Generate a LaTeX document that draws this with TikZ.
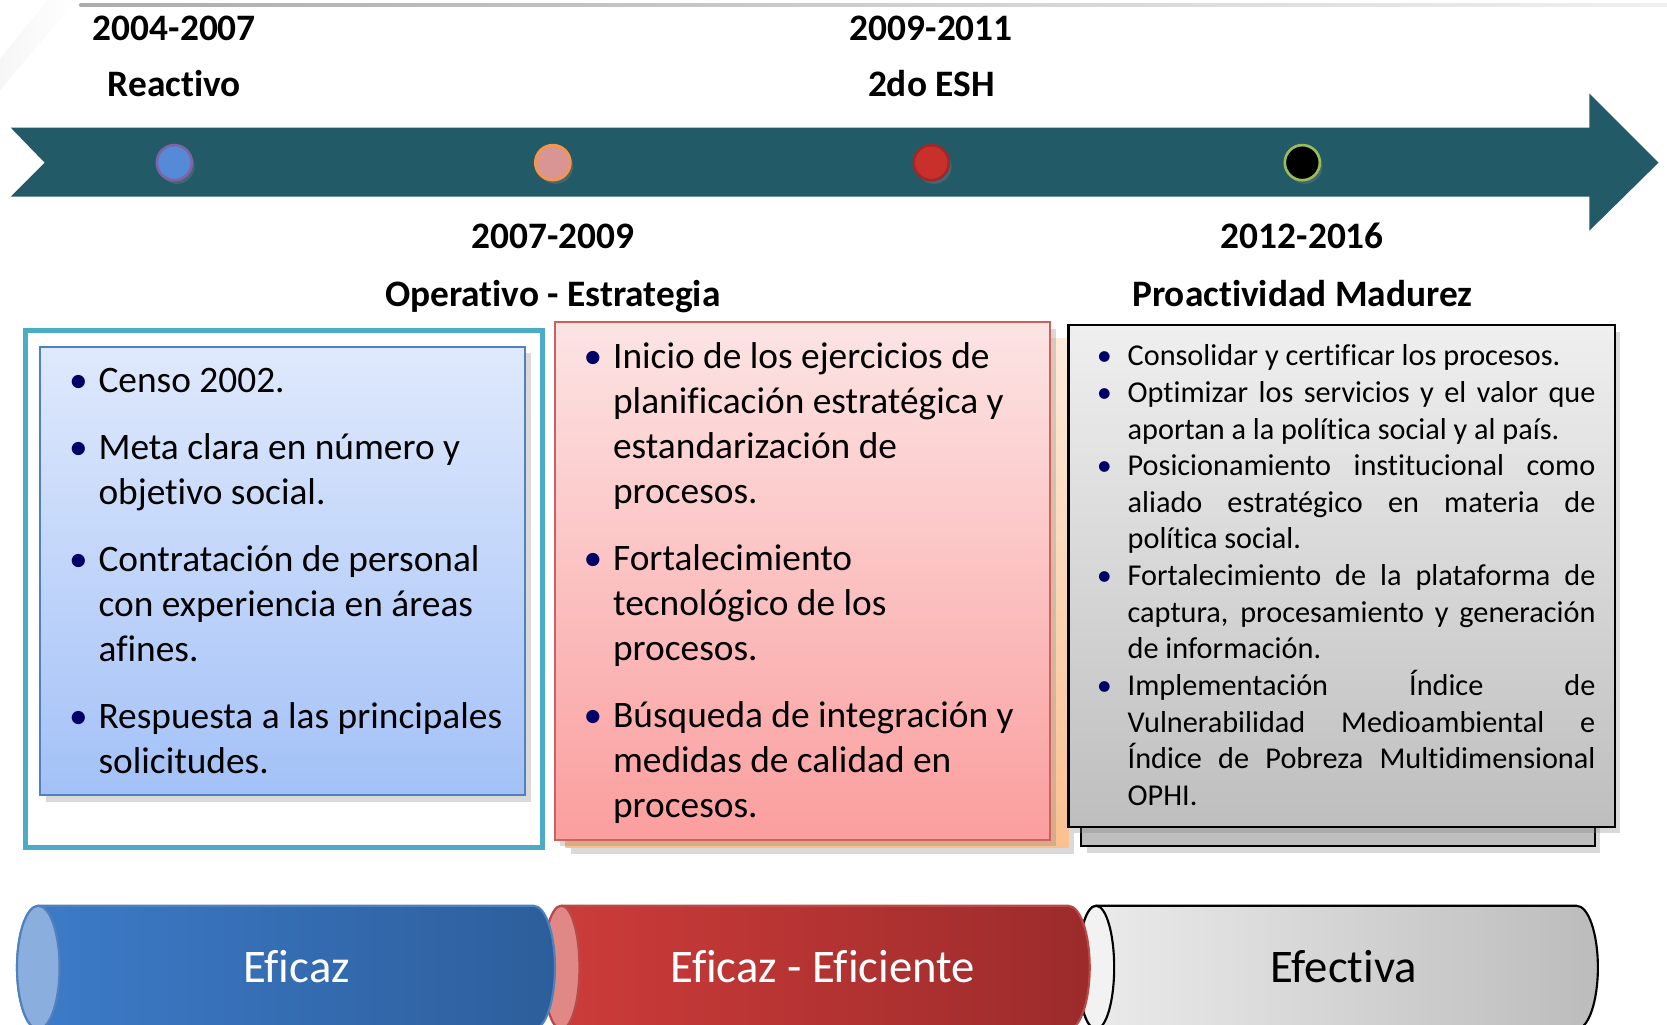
\documentclass[tikz,border=0pt]{standalone}
\usepackage{fontspec}
\setmainfont{Carlito}[Ligatures=NoCommon]
\usepackage{enumitem}
\usetikzlibrary{shadows,positioning}
\definecolor{bandteal}{HTML}{225A68}
\definecolor{dotblue}{HTML}{558BD6}
\definecolor{dotblueedge}{HTML}{7E63A6}
\definecolor{dotsalmon}{HTML}{D99594}
\definecolor{dotorange}{HTML}{F79646}
\definecolor{dotred}{HTML}{C9302C}
\definecolor{dotrededge}{HTML}{A02828}
\definecolor{dotgreen}{HTML}{9BBB59}
\definecolor{frameteal}{HTML}{4BACC6}
\definecolor{blueT}{HTML}{DFE9FC}
\definecolor{blueB}{HTML}{A3C1F7}
\definecolor{blueedge}{HTML}{4F81BD}
\definecolor{redT}{HTML}{FCE4E4}
\definecolor{redB}{HTML}{FB9E9E}
\definecolor{rededge}{HTML}{D0605C}
\definecolor{peachT}{HTML}{FDEADA}
\definecolor{peachB}{HTML}{FAC090}
\definecolor{grayT}{HTML}{EFEFEF}
\definecolor{grayB}{HTML}{BEBEBE}
\definecolor{bulnavy}{HTML}{000066}
\definecolor{cylblueL}{HTML}{3D7CCA}
\definecolor{cylblueR}{HTML}{2D5E9B}
\definecolor{cylblueface}{HTML}{8AAFDF}
\definecolor{cylredL}{HTML}{CD3C3A}
\definecolor{cylredR}{HTML}{9C2B2B}
\definecolor{cylredface}{HTML}{E08886}
\definecolor{cylredge}{HTML}{B94A48}
\definecolor{cylgrayL}{HTML}{ECECEC}
\definecolor{cylgrayR}{HTML}{BCBCBC}
\setlist[itemize]{topsep=0pt,partopsep=0pt,parsep=0pt,itemsep=0pt,leftmargin=3mm,
  labelwidth=0pt,labelsep=1.9mm,label=\makebox[0pt]{\textcolor{bulnavy}{\textbullet}}}
\begin{document}
\begin{tikzpicture}[x=0.1mm,y=-0.1mm,
    yearlbl/.style={anchor=base,inner sep=0pt,font=\fontsize{10}{12}\selectfont\bfseries},
    dotnode/.style={circle,minimum size=3.3mm,inner sep=0pt,line width=0.25mm,
      drop shadow={opacity=0.35,shadow xshift=0.25mm,shadow yshift=-0.35mm}},
    boxshadow/.style={drop shadow={opacity=0.3,shadow xshift=0.5mm,shadow yshift=-0.6mm}},
    listbig/.style={anchor=north west,inner sep=0pt,align=flush left,text width=44mm,
      font=\fontsize{10}{12}\selectfont},
    listsmall/.style={anchor=north west,inner sep=0pt,align=justify,text width=47mm,
      font=\fontsize{8.1}{9.8}\selectfont},
    cyllbl/.style={anchor=base,inner sep=0pt,font=\fontsize{12.5}{14}\selectfont},
    cylfill/.style 2 args={left color=#1,right color=#2}]
\useasboundingbox (0,0) rectangle (1568,964);
\shade[left color=gray!7,right color=white] (0,55) -- (45,0) -- (72,0) -- (0,85) -- cycle;
\shade[left color=gray!65,right color=gray!12] (75,3) rectangle (1568,6);

\fill[bandteal] (10,120) -- (1495,120) -- (1495,88) -- (1560,153) -- (1495,217)
  -- (1495,185) -- (10,185) -- (42,153) -- cycle;
\foreach \nm/\px/\fc/\dc in {dotA/164/dotblue/dotblueedge,dotB/520/dotsalmon/dotorange,
    dotC/876/dotred/dotrededge,dotD/1225/black/dotgreen}
  \node[dotnode,fill=\fc,draw=\dc] (\nm) at (\px,153) {};

\node[yearlbl] (yrA) at (164,38) {2004-2007};
\node[yearlbl] (phA) at (164,91) {Reactivo};
\node[yearlbl] (yrC) at (876,38) {2009-2011};
\node[yearlbl] (phC) at (876,91) {2do ESH};
\node[yearlbl] (yrB) at (520,234) {2007-2009};
\node[yearlbl] (phB) at (520,288) {Operativo - Estrategia};
\node[yearlbl] (yrD) at (1225,234) {2012-2016};
\node[yearlbl] (phD) at (1225,288) {Proactividad Madurez};

\draw[frameteal,line width=0.5mm] (24,311) rectangle (510,797);
\draw[blueedge,line width=0.2mm,top color=blueT,bottom color=blueB,boxshadow] (38,326) rectangle (494,748);
\fill[top color=peachT,bottom color=peachB,boxshadow] (532,318) rectangle (1005,797);
\draw[rededge,line width=0.2mm,top color=redT,bottom color=redB,boxshadow] (522,303) rectangle (988,790);
\draw[line width=0.2mm,fill=grayB,boxshadow] (1017,330) rectangle (1500,796);
\draw[line width=0.2mm,top color=grayT,bottom color=grayB,boxshadow] (1005,306) rectangle (1519,778);

\node[listbig] (listA) at (62,326) {\begin{itemize}[itemsep=6pt]
  \item Censo 2002.
  \item Meta clara en número y\newline objetivo social.
  \item Contratación de personal\newline con experiencia en áreas\newline afines.
  \item Respuesta a las principales\newline solicitudes.
\end{itemize}};
\node[listbig] (listB) at (546,304) {\begin{itemize}[itemsep=6pt]
  \item Inicio de los ejercicios de\newline planificación estratégica y\newline estandarización de\newline procesos.
  \item Fortalecimiento\newline tecnológico de los\newline procesos.
  \item Búsqueda de integración y\newline medidas de calidad en\newline procesos.
\end{itemize}};
\node[listsmall] (listD) at (1030,309) {\begin{itemize}[labelsep=2.2mm]
  \item Consolidar y certificar los procesos.
  \item Optimizar los servicios y el valor que\linebreak aportan a la política social y al país.
  \item Posicionamiento institucional como\linebreak aliado estratégico en materia de\linebreak política social.
  \item Fortalecimiento de la plataforma de\linebreak captura, procesamiento y generación\linebreak de información.
  \item Implementación Índice de\linebreak Vulnerabilidad Medioambiental e\linebreak Índice de Pobreza Multidimensional\linebreak OPHI.
\end{itemize}};

\draw[line width=0.2mm,cylfill={cylgrayL}{cylgrayR}] (1031,852) -- (1483,852)
  arc[start angle=-90,end angle=90,x radius=20,y radius=58] -- (1031,968)
  arc[start angle=90,end angle=270,x radius=17,y radius=58] -- cycle;
\draw[line width=0.2mm,fill=gray!10] (1031,910) ellipse[x radius=17,y radius=58];
\draw[cylredge,line width=0.2mm,cylfill={cylredL}{cylredR}] (528,852) -- (1005,852)
  arc[start angle=-90,end angle=90,x radius=20,y radius=58] -- (528,968)
  arc[start angle=90,end angle=270,x radius=17,y radius=58] -- cycle;
\draw[cylredge,line width=0.2mm,fill=cylredface] (528,910) ellipse[x radius=17,y radius=58];
\draw[blueedge,line width=0.2mm,cylfill={cylblueL}{cylblueR}] (36,852) -- (502,852)
  arc[start angle=-90,end angle=90,x radius=20,y radius=58] -- (36,968)
  arc[start angle=90,end angle=270,x radius=20,y radius=58] -- cycle;
\draw[blueedge,line width=0.2mm,fill=cylblueface] (36,910) ellipse[x radius=20,y radius=58];

\node[cyllbl,white] (cylA) at (279,924) {Eficaz};
\node[cyllbl,white] (cylB) at (774,924) {Eficaz - Eficiente};
\node[cyllbl] (cylC) at (1264,924) {Efectiva};
\end{tikzpicture}
\end{document}
